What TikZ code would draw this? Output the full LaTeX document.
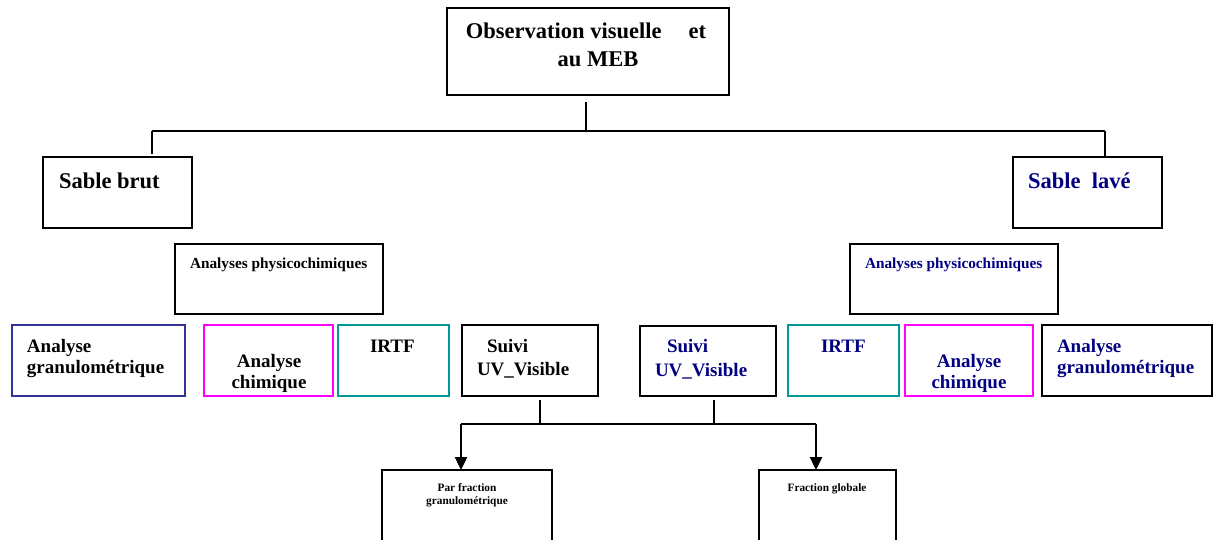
\documentclass[tikz,border=0pt]{standalone}
\usepackage{fontspec}
\setmainfont{Liberation Serif}
\usetikzlibrary{arrows.meta}
\definecolor{navytext}{RGB}{0,0,128}
\definecolor{boxblue}{RGB}{51,51,153}
\definecolor{boxteal}{RGB}{0,153,153}
\definecolor{boxmagenta}{RGB}{255,0,255}
\begin{document}
\begin{tikzpicture}[x=1pt,y=-1pt,
  box/.style={draw, line width=1.7pt, inner sep=0pt, outer sep=0pt, anchor=north west},
  lbl/.style={inner sep=0pt, outer sep=0pt, font=\bfseries},
  link/.style={line width=2.4pt},
  tip/.style={-{Triangle[length=13pt,width=12pt]}},
  big/.style={font=\fontsize{22.5}{26}\selectfont\bfseries},
  mid/.style={font=\fontsize{19}{22}\selectfont\bfseries},
  sml/.style={font=\fontsize{15.3}{18}\selectfont\bfseries},
  tiny/.style={font=\fontsize{11.3}{13}\selectfont\bfseries},
  nv/.style={text=navytext}
]
\useasboundingbox (0,0) rectangle (1214,539);
\clip (0,0) rectangle (1214,539);

% boxes
\node[box, minimum width=282pt, minimum height=87pt] (top) at (447,8) {};
\node[box, minimum width=149pt, minimum height=71pt] (brut) at (43,157) {};
\node[box, minimum width=149pt, minimum height=71pt] (lave) at (1013,157) {};
\node[box, minimum width=208pt, minimum height=70pt] (phL) at (175,244) {};
\node[box, minimum width=208pt, minimum height=70pt] (phR) at (850,244) {};
\node[box, draw=boxblue, minimum width=173pt, minimum height=71pt] (granL) at (12,325) {};
\node[box, draw=boxmagenta, minimum width=129pt, minimum height=71pt] (chimL) at (204,325) {};
\node[box, draw=boxteal, minimum width=111pt, minimum height=71pt] (irL) at (338,325) {};
\node[box, minimum width=136pt, minimum height=71pt] (uvL) at (462,325) {};
\node[box, minimum width=136pt, minimum height=70pt] (uvR) at (640,326) {};
\node[box, draw=boxteal, minimum width=111pt, minimum height=71pt] (irR) at (788,325) {};
\node[box, draw=boxmagenta, minimum width=128pt, minimum height=71pt] (chimR) at (905,325) {};
\node[box, minimum width=170pt, minimum height=71pt] (granR) at (1042,325) {};
\node[box, minimum width=170pt, minimum height=90pt] (parfrac) at (382,470) {};
\node[box, minimum width=137pt, minimum height=90pt] (fracglob) at (759,470) {};

% texts
\node[lbl, big, anchor=base] (t1a) at (586,38) {Observation visuelle\hspace{1.2em}et};
\node[lbl, big, anchor=base] (t1b) at (598,66) {au MEB};
\node[lbl, big, anchor=base west] (tbrut) at (59,188) {Sable brut};
\node[lbl, big, nv, anchor=base west] (tlave) at (1028,188) {Sable\hspace{0.5em}lavé};
\node[lbl, sml, anchor=base west] (tphL) at (190,268) {Analyses physicochimiques};
\node[lbl, sml, nv, anchor=base west] (tphR) at (865,268) {Analyses physicochimiques};
\node[lbl, mid, anchor=base west] (tgLa) at (27,352) {Analyse};
\node[lbl, mid, anchor=base west] (tgLb) at (27,373) {granulométrique};
\node[lbl, mid, anchor=base] (tcLa) at (269,367) {Analyse};
\node[lbl, mid, anchor=base] (tcLb) at (269,388) {chimique};
\node[lbl, mid, anchor=base west] (tiL) at (370,352) {IRTF};
\node[lbl, mid, anchor=base west] (tuLa) at (487,352) {Suivi};
\node[lbl, mid, anchor=base west] (tuLb) at (477,375) {UV\_Visible};
\node[lbl, mid, nv, anchor=base west] (tuRa) at (667,352) {Suivi};
\node[lbl, mid, nv, anchor=base west] (tuRb) at (655,376) {UV\_Visible};
\node[lbl, mid, nv, anchor=base west] (tiR) at (821,352) {IRTF};
\node[lbl, mid, nv, anchor=base] (tcRa) at (969,367) {Analyse};
\node[lbl, mid, nv, anchor=base] (tcRb) at (969,388) {chimique};
\node[lbl, mid, nv, anchor=base west] (tgRa) at (1057,352) {Analyse};
\node[lbl, mid, nv, anchor=base west] (tgRb) at (1057,373) {granulométrique};
\node[lbl, tiny, anchor=base] (tpfa) at (467,491) {Par fraction};
\node[lbl, tiny, anchor=base] (tpfb) at (467,504) {granulométrique};
\node[lbl, tiny, anchor=base] (tfg) at (827,491) {Fraction globale};

% connectors
\coordinate (c0) at (586,102);
\coordinate (hub) at (586,131);
\coordinate (hl) at (152,131);
\coordinate (hr) at (1105,131);
\coordinate (bl) at (152,154);
\draw[link] (c0) -- (hub);
\draw[link] (hl) -- (hr);
\draw[link] (hl) -- (bl);
\draw[link] (hr) -- (hr |- lave.north);

\coordinate (u1) at (540,400);
\coordinate (j1) at (540,424);
\coordinate (u2) at (714,400);
\coordinate (j2) at (714,424);
\coordinate (a1) at (461,424);
\coordinate (a2) at (816,424);
\draw[link] (u1) -- (j1);
\draw[link] (u2) -- (j2);
\draw[link] (a1) -- (a2);
\draw[link, tip] (a1) -- (a1 |- parfrac.north);
\draw[link, tip] (a2) -- (a2 |- fracglob.north);
\end{tikzpicture}
\end{document}
